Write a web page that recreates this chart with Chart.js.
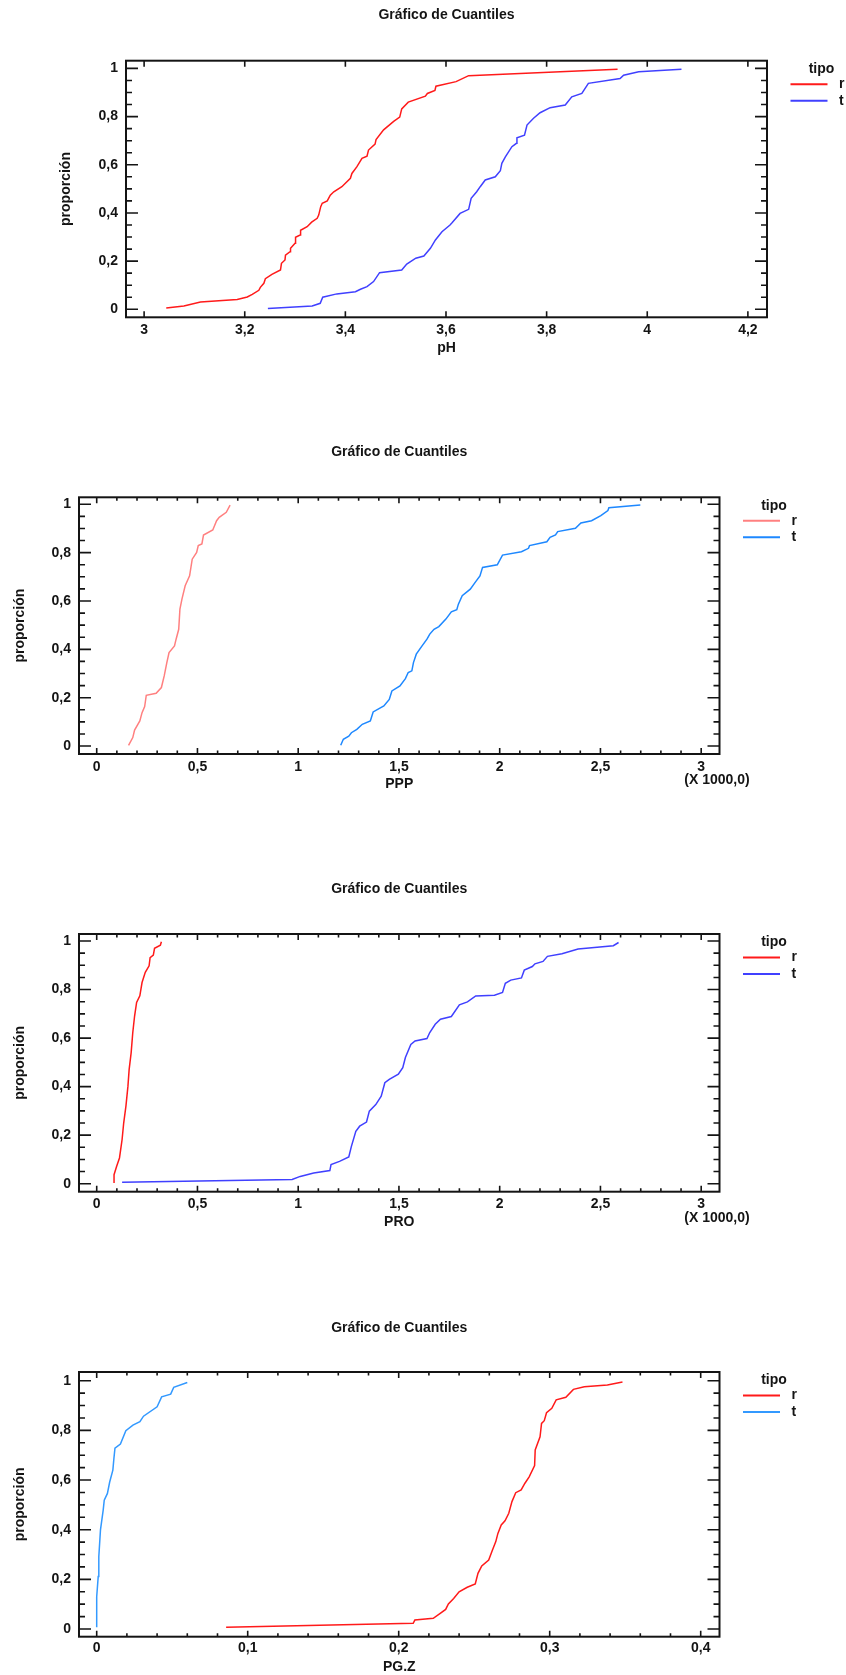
<!DOCTYPE html>
<html>
<head>
<meta charset="utf-8">
<title>Gráfico de Cuantiles</title>
<script src="https://cdn.jsdelivr.net/npm/chart.js@4.4.1/dist/chart.umd.min.js"></script>
<style>
  html, body { margin: 0; padding: 0; background: #fff; }
  #page { position: relative; width: 846px; height: 1675px; overflow: hidden; }
  canvas { position: absolute; left: 0; display: block; }
</style>
</head>
<body>
<div id="page">
  <canvas id="phChart" width="846" height="420" style="top:0px"></canvas>
  <canvas id="pppChart" width="846" height="440" style="top:420px"></canvas>
  <canvas id="proChart" width="846" height="430" style="top:860px"></canvas>
  <canvas id="pgzChart" width="846" height="385" style="top:1290px"></canvas>
</div>
<script>
// ---- datos: valor ordenado y proporción acumulada, por tipo ----

// pH
const phR_x = [3.044, 3.079, 3.112, 3.185, 3.205, 3.215, 3.228, 3.231, 3.238, 3.241, 3.254, 3.271, 3.273, 3.280, 3.281, 3.290, 3.291, 3.300, 3.301, 3.310, 3.311, 3.324, 3.333, 3.344, 3.347, 3.351, 3.354, 3.364, 3.370, 3.377, 3.393, 3.410, 3.413, 3.423, 3.433, 3.443, 3.446, 3.459, 3.461, 3.476, 3.496, 3.508, 3.512, 3.525, 3.559, 3.563, 3.578, 3.580, 3.620, 3.645, 3.941];
const phR_p = [0.005, 0.014, 0.030, 0.041, 0.051, 0.062, 0.079, 0.091, 0.108, 0.127, 0.145, 0.163, 0.191, 0.205, 0.225, 0.239, 0.253, 0.274, 0.299, 0.308, 0.328, 0.343, 0.362, 0.378, 0.391, 0.426, 0.440, 0.450, 0.474, 0.488, 0.509, 0.544, 0.564, 0.592, 0.627, 0.636, 0.661, 0.686, 0.705, 0.745, 0.780, 0.798, 0.832, 0.860, 0.885, 0.896, 0.909, 0.926, 0.945, 0.970, 0.996];
const phT_x = [3.246, 3.334, 3.350, 3.355, 3.383, 3.420, 3.430, 3.443, 3.456, 3.468, 3.512, 3.522, 3.540, 3.556, 3.569, 3.579, 3.592, 3.608, 3.612, 3.628, 3.645, 3.650, 3.661, 3.668, 3.678, 3.698, 3.708, 3.711, 3.718, 3.731, 3.740, 3.741, 3.756, 3.761, 3.774, 3.787, 3.807, 3.837, 3.850, 3.870, 3.883, 3.946, 3.953, 3.983, 4.068];
const phT_p = [0.003, 0.014, 0.025, 0.050, 0.064, 0.073, 0.083, 0.094, 0.115, 0.152, 0.163, 0.188, 0.212, 0.221, 0.253, 0.288, 0.322, 0.350, 0.359, 0.398, 0.415, 0.461, 0.488, 0.509, 0.537, 0.550, 0.575, 0.606, 0.633, 0.675, 0.689, 0.712, 0.723, 0.765, 0.793, 0.816, 0.837, 0.848, 0.882, 0.896, 0.938, 0.958, 0.972, 0.986, 0.997];

// PPP
const pppR_x = [158, 179, 188, 214, 225, 238, 246, 295, 321, 335, 348, 359, 386, 394, 407, 413, 423, 439, 461, 474, 496, 504, 522, 530, 576, 595, 608, 643, 662];
const pppR_p = [0.003, 0.035, 0.066, 0.104, 0.138, 0.163, 0.210, 0.218, 0.242, 0.290, 0.345, 0.387, 0.414, 0.442, 0.483, 0.566, 0.608, 0.663, 0.704, 0.773, 0.801, 0.829, 0.836, 0.873, 0.894, 0.932, 0.946, 0.967, 0.997];
const pppT_x = [1211, 1224, 1251, 1264, 1291, 1318, 1358, 1372, 1425, 1452, 1465, 1505, 1532, 1546, 1564, 1572, 1586, 1613, 1639, 1653, 1674, 1698, 1733, 1760, 1787, 1795, 1814, 1854, 1881, 1902, 1915, 1988, 2014, 2108, 2143, 2148, 2234, 2250, 2277, 2288, 2376, 2403, 2456, 2502, 2537, 2542, 2698];
const pppT_p = [0.003, 0.028, 0.041, 0.055, 0.069, 0.090, 0.104, 0.141, 0.166, 0.193, 0.228, 0.249, 0.279, 0.304, 0.311, 0.345, 0.380, 0.412, 0.442, 0.463, 0.483, 0.494, 0.525, 0.555, 0.564, 0.587, 0.622, 0.649, 0.680, 0.704, 0.739, 0.750, 0.790, 0.804, 0.818, 0.829, 0.845, 0.863, 0.873, 0.887, 0.901, 0.923, 0.932, 0.953, 0.974, 0.986, 0.997];

// PRO
const proR_x = [86, 86, 99, 113, 126, 134, 145, 155, 161, 171, 179, 188, 198, 214, 225, 241, 260, 265, 281, 287, 316, 321];
const proR_p = [0.003, 0.037, 0.072, 0.106, 0.182, 0.251, 0.320, 0.402, 0.471, 0.540, 0.623, 0.691, 0.747, 0.774, 0.829, 0.871, 0.898, 0.932, 0.942, 0.970, 0.983, 0.997];
const proT_x = [126, 970, 1010, 1077, 1157, 1163, 1205, 1251, 1264, 1286, 1305, 1339, 1353, 1385, 1412, 1430, 1452, 1497, 1519, 1532, 1559, 1580, 1639, 1653, 1680, 1706, 1760, 1800, 1840, 1881, 1974, 2014, 2028, 2055, 2108, 2122, 2162, 2175, 2215, 2237, 2309, 2389, 2443, 2564, 2590];
const proT_p = [0.006, 0.017, 0.030, 0.044, 0.054, 0.079, 0.092, 0.110, 0.154, 0.216, 0.237, 0.254, 0.299, 0.326, 0.361, 0.416, 0.430, 0.451, 0.478, 0.520, 0.574, 0.588, 0.598, 0.623, 0.657, 0.678, 0.689, 0.737, 0.749, 0.774, 0.777, 0.788, 0.826, 0.839, 0.848, 0.880, 0.895, 0.906, 0.916, 0.937, 0.948, 0.967, 0.971, 0.981, 0.994];

// PG.Z
const pgzR_x = [0.0857, 0.2096, 0.2107, 0.2229, 0.2275, 0.2311, 0.2329, 0.2364, 0.2400, 0.2454, 0.2507, 0.2525, 0.2550, 0.2596, 0.2621, 0.2643, 0.2657, 0.2679, 0.2704, 0.2729, 0.2750, 0.2775, 0.2811, 0.2836, 0.2864, 0.2900, 0.2904, 0.2936, 0.2946, 0.2964, 0.2979, 0.3014, 0.3043, 0.3107, 0.3157, 0.3229, 0.3382, 0.3482];
const pgzR_p = [0.007, 0.023, 0.036, 0.043, 0.063, 0.079, 0.101, 0.123, 0.150, 0.168, 0.181, 0.224, 0.254, 0.278, 0.318, 0.352, 0.385, 0.419, 0.436, 0.466, 0.513, 0.549, 0.560, 0.587, 0.613, 0.658, 0.721, 0.774, 0.828, 0.839, 0.871, 0.889, 0.923, 0.933, 0.965, 0.976, 0.983, 0.995];
const pgzT_x = [0.0000, 0.0000, 0.0010, 0.0014, 0.0025, 0.0043, 0.0050, 0.0071, 0.0086, 0.0107, 0.0114, 0.0121, 0.0157, 0.0193, 0.0240, 0.0286, 0.0310, 0.0400, 0.0430, 0.0490, 0.0510, 0.0600];
const pgzT_p = [0.007, 0.130, 0.211, 0.291, 0.399, 0.479, 0.519, 0.546, 0.592, 0.640, 0.687, 0.728, 0.745, 0.799, 0.821, 0.835, 0.857, 0.895, 0.935, 0.946, 0.973, 0.993];

// marcas de los ejes
const phTicks = [3, 3.2, 3.4, 3.6, 3.8, 4, 4.2];
const milesTicks = [0, 500, 1000, 1500, 2000, 2500, 3000];
const pgzTicks = [0, 0.1, 0.2, 0.3, 0.4];
const propTicks = [0, 0.2, 0.4, 0.6, 0.8, 1];

const FONT = "'Liberation Sans', Arial, Helvetica, sans-serif";
const INK = '#141414';

function commaLabel(v) {
    return String(v).replace('.', ',');
}

function toPoints(xs, ps) {
    return xs.map((x, i) => ({ x: x, y: ps[i] }));
}

// marco, marcas hacia dentro y leyenda "tipo"
const framePlugin = {
    id: 'framePlugin',
    afterDraw(chart, args, opts) {
        const ctx = chart.ctx;
        const a = chart.chartArea;
        const xs = chart.scales.x;
        const ys = chart.scales.y;
        ctx.save();
        ctx.strokeStyle = INK;
        ctx.lineWidth = 1.6;

        // proporción: mayor cada 0,2 y menor cada 0,05, a los dos lados
        for (let k = 0; k <= 20; k++) {
            const py = ys.getPixelForValue(k * 0.05);
            const len = k % 4 === 0 ? 12 : 6;
            ctx.beginPath();
            ctx.moveTo(a.left, py); ctx.lineTo(a.left + len, py);
            ctx.moveTo(a.right, py); ctx.lineTo(a.right - len, py);
            ctx.stroke();
        }

        // eje x, arriba y abajo
        const n = Math.round((opts.xLast - opts.xFirst) / opts.xMinor);
        for (let k = 0; k <= n; k++) {
            const px = xs.getPixelForValue(opts.xFirst + k * opts.xMinor);
            const len = k % opts.xMajorEvery === 0 ? 6 : 3.5;
            ctx.beginPath();
            ctx.moveTo(px, a.bottom); ctx.lineTo(px, a.bottom - len);
            ctx.moveTo(px, a.top); ctx.lineTo(px, a.top + len);
            ctx.stroke();
        }

        ctx.lineWidth = 2;
        ctx.strokeRect(a.left, a.top, a.right - a.left, a.bottom - a.top);

        ctx.fillStyle = INK;
        ctx.textBaseline = 'middle';
        ctx.font = 'bold 14px ' + FONT;
        ctx.textAlign = 'center';
        ctx.fillText('tipo', a.right + 54.5, a.top + 8.5);
        chart.data.datasets.forEach((ds, i) => {
            const ly = a.top + 23.5 + i * 16.5;
            ctx.strokeStyle = ds.borderColor;
            ctx.lineWidth = 2;
            ctx.beginPath();
            ctx.moveTo(a.right + 23.5, ly);
            ctx.lineTo(a.right + 60.5, ly);
            ctx.stroke();
            ctx.textAlign = 'left';
            ctx.fillText(ds.label, a.right + 72, ly);
        });

        if (opts.multiplier) {
            ctx.font = 'bold 14px ' + FONT;
            ctx.textAlign = 'center';
            ctx.fillText(opts.multiplier, a.right - 2.5, a.bottom + 26);
        }
        ctx.restore();
    }
};

function buildQuantileChart(canvasId, cfg) {
    const canvas = document.getElementById(canvasId);
    const H = canvas.height;
    const plot = cfg.plot;
    const tickFont = { family: FONT, size: 14, weight: 'bold' };
    const labelFont = { family: FONT, size: 14, weight: 'bold' };
    const xAxisH = cfg.xTitleGap + 8.4;
    const padLeft = cfg.yTitleX - 8.4;

    return new Chart(canvas.getContext('2d'), {
        type: 'line',
        data: {
            datasets: cfg.series.map(s => ({
                label: s.label,
                data: toPoints(s.x, s.p),
                borderColor: s.color,
                borderWidth: 1.5,
                pointRadius: 0,
                tension: 0,
                fill: false
            }))
        },
        options: {
            responsive: false,
            animation: false,
            devicePixelRatio: 1,
            layout: {
                padding: { left: padLeft, right: 846 - plot.right, top: 0, bottom: H - plot.bottom - xAxisH }
            },
            plugins: {
                legend: { display: false },
                tooltip: { enabled: false },
                title: {
                    display: true,
                    text: 'Gráfico de Cuantiles',
                    fullSize: false,
                    color: INK,
                    font: labelFont,
                    padding: { top: cfg.titleY - 8.4, bottom: plot.top - cfg.titleY - 8.4 }
                },
                framePlugin: {
                    xFirst: cfg.xTicks[0],
                    xLast: cfg.xTicks[cfg.xTicks.length - 1],
                    xMinor: cfg.xMinor,
                    xMajorEvery: cfg.xMajorEvery,
                    multiplier: cfg.multiplier
                }
            },
            scales: {
                x: {
                    type: 'linear',
                    position: 'bottom',
                    min: cfg.xMin,
                    max: cfg.xMax,
                    grid: { display: false, drawTicks: false },
                    border: { display: false },
                    afterBuildTicks: s => { s.ticks = cfg.xTicks.map(v => ({ value: v })); },
                    afterFit: s => { s.height = xAxisH; },
                    ticks: {
                        autoSkip: false,
                        maxRotation: 0,
                        padding: cfg.xLabelGap - 8.4,
                        color: INK,
                        font: tickFont,
                        callback: v => commaLabel(cfg.xDiv ? v / cfg.xDiv : v)
                    },
                    title: { display: true, text: cfg.xTitle, color: INK, font: labelFont, padding: 0 }
                },
                y: {
                    type: 'linear',
                    position: 'left',
                    min: cfg.yMin,
                    max: cfg.yMax,
                    grid: { display: false, drawTicks: false },
                    border: { display: false },
                    afterBuildTicks: s => { s.ticks = propTicks.map(v => ({ value: v })); },
                    afterFit: s => { s.width = plot.left - padLeft; },
                    ticks: {
                        autoSkip: false,
                        padding: 8,
                        color: INK,
                        font: tickFont,
                        callback: v => commaLabel(v)
                    },
                    title: { display: true, text: 'proporción', color: INK, font: labelFont, padding: 0 }
                }
            }
        },
        plugins: [framePlugin]
    });
}

buildQuantileChart('phChart', {
    plot: { left: 126, top: 60.7, right: 767, bottom: 317.3 },
    titleY: 15, yTitleX: 66.5, xLabelGap: 12.7, xTitleGap: 31,
    xMin: 2.964, xMax: 4.238, yMin: -0.0332, yMax: 1.032,
    xTicks: phTicks, xMinor: 0.2, xMajorEvery: 1,
    xTitle: 'pH',
    series: [
        { label: 'r', x: phR_x, p: phR_p, color: '#ff1a1a' },
        { label: 't', x: phT_x, p: phT_p, color: '#4040ff' }
    ]
});

buildQuantileChart('pppChart', {
    plot: { left: 79, top: 77.3, right: 719.5, bottom: 334 },
    titleY: 32.3, yTitleX: 20, xLabelGap: 12.7, xTitleGap: 30.3,
    xMin: -87.9, xMax: 3090.9, yMin: -0.033, yMax: 1.029,
    xTicks: milesTicks, xMinor: 100, xMajorEvery: 5, xDiv: 1000,
    xTitle: 'PPP', multiplier: '(X 1000,0)',
    series: [
        { label: 'r', x: pppR_x, p: pppR_p, color: '#ff8080' },
        { label: 't', x: pppT_x, p: pppT_p, color: '#1e88ff' }
    ]
});

buildQuantileChart('proChart', {
    plot: { left: 79, top: 74, right: 719.5, bottom: 331.7 },
    titleY: 29.3, yTitleX: 20, xLabelGap: 12.7, xTitleGap: 30,
    xMin: -87.9, xMax: 3090.9, yMin: -0.033, yMax: 1.029,
    xTicks: milesTicks, xMinor: 100, xMajorEvery: 5, xDiv: 1000,
    xTitle: 'PRO', multiplier: '(X 1000,0)',
    series: [
        { label: 'r', x: proR_x, p: proR_p, color: '#ff1a1a' },
        { label: 't', x: proT_x, p: proT_p, color: '#4040ff' }
    ]
});

buildQuantileChart('pgzChart', {
    plot: { left: 79, top: 82, right: 719.5, bottom: 346.7 },
    titleY: 38.3, yTitleX: 20, xLabelGap: 11.3, xTitleGap: 30,
    xMin: -0.01172, xMax: 0.41245, yMin: -0.031, yMax: 1.035,
    xTicks: pgzTicks, xMinor: 0.02, xMajorEvery: 5,
    xTitle: 'PG.Z',
    series: [
        { label: 'r', x: pgzR_x, p: pgzR_p, color: '#ff1a1a' },
        { label: 't', x: pgzT_x, p: pgzT_p, color: '#3399ff' }
    ]
});
</script>
</body>
</html>
